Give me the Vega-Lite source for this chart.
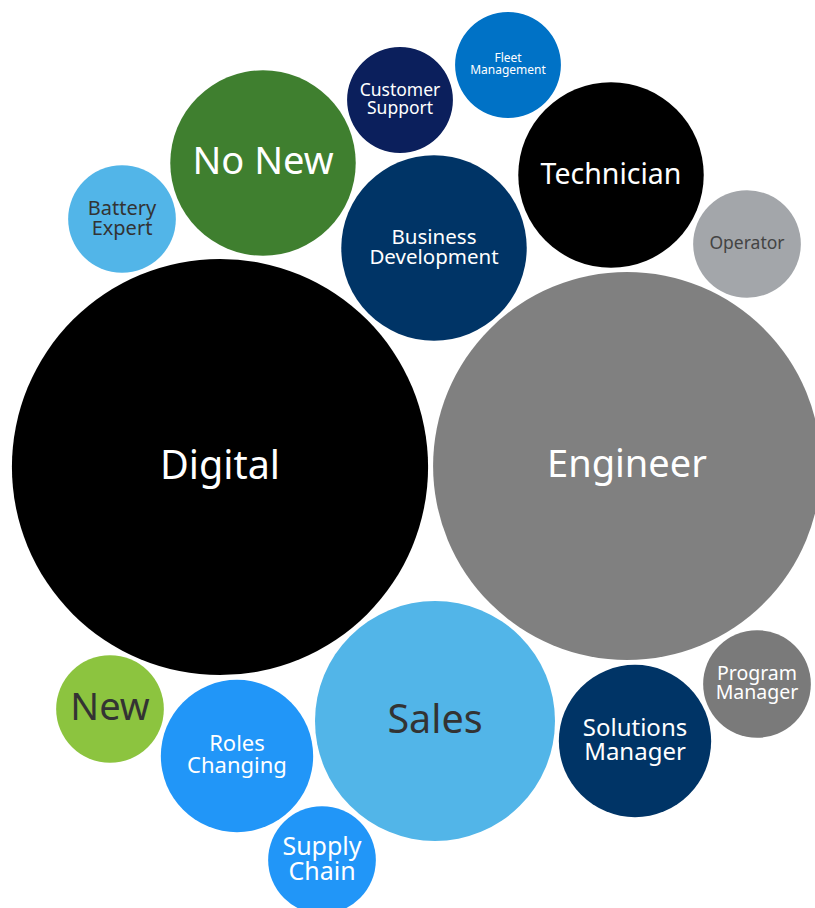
{
  "$schema": "https://vega.github.io/schema/vega-lite/v6.json",
  "width": 815,
  "height": 908,
  "padding": 0,
  "autosize": {"type": "none"},
  "background": "white",
  "config": {"view": {"stroke": null}},
  "data": {
    "values": [
      {"name": "Digital", "line1": "Digital", "line2": null, "x": 220, "y": 467, "value": 433, "color": "#000000"},
      {"name": "Engineer", "line1": "Engineer", "line2": null, "x": 627, "y": 466, "value": 376, "color": "#808080"},
      {"name": "Sales", "line1": "Sales", "line2": null, "x": 435, "y": 721, "value": 144, "color": "#52b5e8"},
      {"name": "No New", "line1": "No New", "line2": null, "x": 263, "y": 163, "value": 86, "color": "#3f7f2f"},
      {"name": "Business Development", "line1": "Business", "line2": "Development", "x": 434, "y": 248, "value": 86, "color": "#003466"},
      {"name": "Technician", "line1": "Technician", "line2": null, "x": 611, "y": 175, "value": 86, "color": "#000000"},
      {"name": "Customer Support", "line1": "Customer", "line2": "Support", "x": 400, "y": 100, "value": 28, "color": "#0b1f5c"},
      {"name": "Fleet Management", "line1": "Fleet", "line2": "Management", "x": 508, "y": 65, "value": 28, "color": "#0072c6"},
      {"name": "Battery Expert", "line1": "Battery", "line2": "Expert", "x": 122, "y": 219, "value": 29, "color": "#52b5e8"},
      {"name": "Operator", "line1": "Operator", "line2": null, "x": 747, "y": 244, "value": 29, "color": "#a3a6aa"},
      {"name": "New", "line1": "New", "line2": null, "x": 110, "y": 709, "value": 29, "color": "#8cc43f"},
      {"name": "Roles Changing", "line1": "Roles", "line2": "Changing", "x": 237, "y": 756, "value": 58, "color": "#2196f8"},
      {"name": "Supply Chain", "line1": "Supply", "line2": "Chain", "x": 322, "y": 860, "value": 29, "color": "#2196f8"},
      {"name": "Solutions Manager", "line1": "Solutions", "line2": "Manager", "x": 635, "y": 741, "value": 58, "color": "#003466"},
      {"name": "Program Manager", "line1": "Program", "line2": "Manager", "x": 757, "y": 684, "value": 29, "color": "#7a7a7a"}
    ]
  },
  "encoding": {
    "x": {"field": "x", "type": "quantitative", "scale": {"domain": [0, 815], "nice": false, "zero": false}, "axis": null},
    "y": {"field": "y", "type": "quantitative", "scale": {"domain": [0, 908], "nice": false, "zero": false, "reverse": true}, "axis": null}
  },
  "layer": [
    {
      "mark": {"type": "point", "shape": "circle", "filled": true, "opacity": 1, "strokeWidth": 0},
      "encoding": {
        "size": {"field": "value", "type": "quantitative", "scale": {"domain": [0, 433], "range": [0, 173200], "zero": true}, "legend": null},
        "color": {"field": "color", "type": "nominal", "scale": null}
      }
    },
    {
      "encoding": {
        "size": {
          "field": "name",
          "type": "nominal",
          "legend": null,
          "scale": {
            "type": "ordinal",
            "domain": ["Digital", "Engineer", "Sales", "No New", "New", "Technician", "Roles Changing", "Supply Chain", "Solutions Manager", "Business Development", "Program Manager", "Battery Expert", "Customer Support", "Operator", "Fleet Management"],
            "range": [39.5, 38, 39.5, 38, 38, 28.5, 22, 25, 24, 20.5, 19.5, 20, 17.5, 17.5, 12]
          }
        },
        "color": {
          "condition": [
            {"test": "indexof(['Sales','New','Battery Expert'], datum.name) >= 0", "value": "#333333"},
            {"test": "datum.name === 'Operator'", "value": "#444444"}
          ],
          "value": "#ffffff"
        }
      },
      "layer": [
        {
          "transform": [{"filter": "!datum.line2"}],
          "mark": {"type": "text", "font": "Noto Sans", "align": "center", "baseline": "middle"},
          "encoding": {"text": {"field": "line1"}}
        },
        {
          "transform": [{"filter": "datum.line2"}],
          "mark": {"type": "text", "font": "Noto Sans", "align": "center", "baseline": "bottom"},
          "encoding": {"text": {"field": "line1"}}
        },
        {
          "transform": [{"filter": "datum.line2"}],
          "mark": {"type": "text", "font": "Noto Sans", "align": "center", "baseline": "top"},
          "encoding": {"text": {"field": "line2"}}
        }
      ]
    }
  ],
  "resolve": {"scale": {"size": "independent", "color": "independent"}}
}
